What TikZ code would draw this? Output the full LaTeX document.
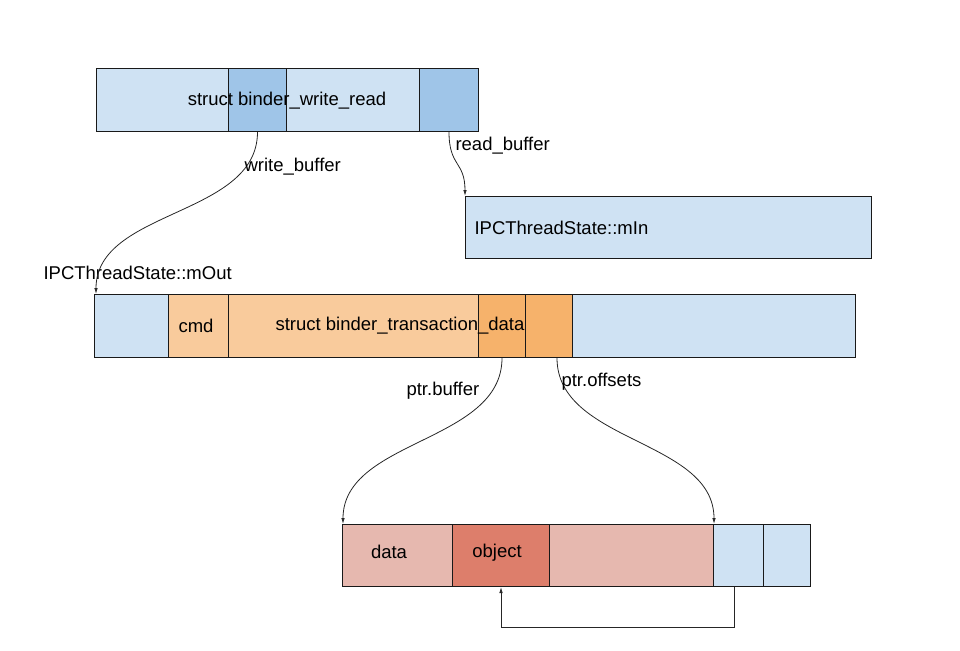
\documentclass[tikz,border=0pt]{standalone}
\usepackage{fontspec}
\setmainfont{Liberation Sans}
\usetikzlibrary{arrows.meta}

\definecolor{lblue}{HTML}{CFE2F3}
\definecolor{dblue}{HTML}{9FC5E8}
\definecolor{lorange}{HTML}{F9CB9C}
\definecolor{dorange}{HTML}{F6B26B}
\definecolor{lred}{HTML}{E6B8AF}
\definecolor{dred}{HTML}{DD7E6B}

\begin{document}
\begin{tikzpicture}[x=1pt, y=-1pt,
    every node/.style={font=\fontsize{18.5}{22}\selectfont, text=black},
    seg/.style={draw=black!90, line width=1pt, inner sep=0pt, anchor=north west},
    ptr/.style={-{Latex[length=6pt,width=3.5pt]}, line width=0.8pt, draw=black!85}]
      \useasboundingbox (0,0) rectangle (960,650);

      % struct binder_write_read
      \node[seg, fill=lblue, minimum width=132, minimum height=63] (wr0) at (96,68) {};
      \node[seg, fill=dblue, minimum width=58, minimum height=63] (wr1) at (228,68) {};
      \node[seg, fill=lblue, minimum width=133, minimum height=63] (wr2) at (286,68) {};
      \node[seg, fill=dblue, minimum width=59, minimum height=63] (wr3) at (419,68) {};
      \node (wrtext) at (287,101) {struct binder\_write\_read};

      % mIn
      \node[seg, fill=lblue, minimum width=406, minimum height=62] (min) at (465,196) {};
      \node[anchor=west] (mintext) at (471,228) {IPCThreadState::mIn};

      % mOut
      \node[anchor=west] (outtext) at (40,273) {IPCThreadState::mOut};
      \node[seg, fill=lblue, minimum width=74, minimum height=63] (out0) at (94,294) {};
      \node[seg, fill=lorange, minimum width=60, minimum height=63] (out1) at (168,294) {};
      \node[seg, fill=lorange, minimum width=250, minimum height=63] (out2) at (228,294) {};
      \node[seg, fill=dorange, minimum width=47, minimum height=63] (out3) at (478,294) {};
      \node[seg, fill=dorange, minimum width=47, minimum height=63] (out4) at (525,294) {};
      \node[seg, fill=lblue, minimum width=283, minimum height=63] (out5) at (572,294) {};
      \node (cmd) at (196,326) {cmd};
      \node (tdtext) at (400,326) {struct binder\_transaction\_data};

      % buffer
      \node[seg, fill=lred, minimum width=110, minimum height=62] (in0) at (342,524) {};
      \node[seg, fill=dred, minimum width=97, minimum height=62] (in1) at (452,524) {};
      \node[seg, fill=lred, minimum width=164, minimum height=62] (in2) at (549,524) {};
      \node[seg, fill=lblue, minimum width=50, minimum height=62] (in3) at (713,524) {};
      \node[seg, fill=lblue, minimum width=47, minimum height=62] (in4) at (763,524) {};
      \node (data) at (389,552) {data};
      \node (object) at (497,553) {object};

      \draw[ptr] (wr1.south) .. controls +(0,85) and +(0,-85) .. ([xshift=2pt]out0.north west);
      \node[anchor=west] (wbuf) at (241,167) {write\_buffer};
      \draw[ptr] (wr3.south) .. controls +(0,35) and +(0,-35) .. (min.north west);
      \node[anchor=west] (rbuf) at (452,146) {read\_buffer};

      \draw[ptr] (out3.south) .. controls +(0,85) and +(0,-85) .. ([xshift=1pt]in0.north west);
      \node[anchor=west] (pbuf) at (403,391) {ptr.buffer};
      \draw[ptr] ([xshift=8pt]out4.south) .. controls +(0,85) and +(0,-85) .. ([xshift=1pt]in3.north west);
      \node[anchor=west] (poff) at (558,382) {ptr.offsets};

      \draw[ptr] ([xshift=-4pt]in3.south) -- ++(0,40) -| (in1.south);
\end{tikzpicture}
\end{document}
